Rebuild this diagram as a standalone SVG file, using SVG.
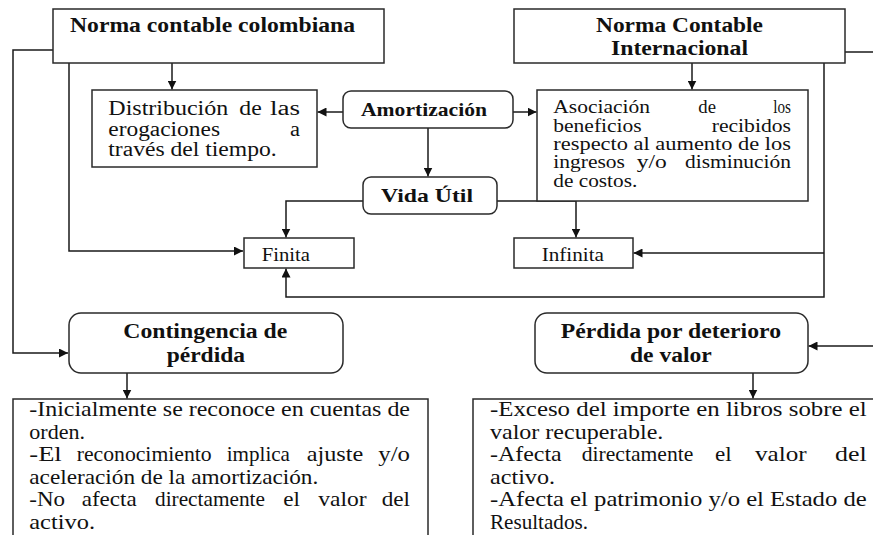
<svg xmlns="http://www.w3.org/2000/svg" width="873" height="535" viewBox="0 0 873 535">
<style>
.box{fill:#fff;stroke:#2a2a2a;stroke-width:1.5}
.c{fill:none;stroke:#1a1a1a;stroke-width:1.5}
.h{font-family:"Liberation Serif","Times New Roman",serif;font-weight:bold;font-size:20px;fill:#111}
.hs{font-family:"Liberation Serif","Times New Roman",serif;font-weight:bold;font-size:19.5px;fill:#111}
.t{font-family:"Liberation Serif","Times New Roman",serif;font-size:20px;fill:#111}
.ts{font-family:"Liberation Serif","Times New Roman",serif;font-size:18px;fill:#111}
.tb{font-family:"Liberation Serif","Times New Roman",serif;font-size:21px;fill:#111}
.tf{font-family:"Liberation Serif","Times New Roman",serif;font-size:18.5px;fill:#111}
</style>
<defs>
<marker id="ah" viewBox="0 0 10 10" refX="10" refY="5" markerWidth="9" markerHeight="9" markerUnits="userSpaceOnUse" orient="auto">
<path d="M0,0 L10,5 L0,10 z" fill="#111"/>
</marker>
</defs>
<rect width="873" height="535" fill="#fff"/>

<g id="connectors">
<path class="c" d="M53,50 H13 V353 H68" marker-end="url(#ah)"/>
<path class="c" d="M69,63 V251 H243" marker-end="url(#ah)"/>
<path class="c" d="M172,63 V89.5" marker-end="url(#ah)"/>
<path class="c" d="M343,112 H317.5" marker-end="url(#ah)"/>
<path class="c" d="M513,112 H536.5" marker-end="url(#ah)"/>
<path class="c" d="M428,128 V176.5" marker-end="url(#ah)"/>
<path class="c" d="M363,201 H286 V237.5" marker-end="url(#ah)"/>
<path class="c" d="M497,201 H576 V237.5" marker-end="url(#ah)"/>
<path class="c" d="M692,63 V89.5" marker-end="url(#ah)"/>
<path class="c" d="M845,52 H873"/>
<path class="c" d="M824,63 V297 H286 V268.5" marker-end="url(#ah)"/>
<path class="c" d="M824,253 H633.5" marker-end="url(#ah)"/>
<path class="c" d="M873,346 H808.5" marker-end="url(#ah)"/>
<path class="c" d="M127,373 V398.5" marker-end="url(#ah)"/>
<path class="c" d="M753,373 V398.5" marker-end="url(#ah)"/>
</g>

<g id="norma-colombiana">
<rect class="box" x="53" y="9" width="331" height="54"/>
<text class="h" x="70" y="32" textLength="285" lengthAdjust="spacingAndGlyphs">Norma contable colombiana</text>
</g>

<g id="norma-internacional">
<rect class="box" x="514" y="9" width="331" height="54"/>
<text class="h" x="596" y="32" textLength="167" lengthAdjust="spacingAndGlyphs">Norma Contable</text>
<text class="h" x="611" y="55" textLength="137" lengthAdjust="spacingAndGlyphs">Internacional</text>
</g>

<g id="distribucion">
<rect class="box" x="92" y="90" width="225" height="77"/>
<text class="t" x="108.3" y="115" textLength="120" lengthAdjust="spacingAndGlyphs">Distribución</text>
<text class="t" x="239.3" y="115" textLength="22.4" lengthAdjust="spacingAndGlyphs">de</text>
<text class="t" x="270" y="115" textLength="30" lengthAdjust="spacingAndGlyphs">las</text>
<text class="t" x="108.3" y="135.5" textLength="111.7" lengthAdjust="spacingAndGlyphs">erogaciones</text>
<text class="t" x="290" y="135.5" textLength="10" lengthAdjust="spacingAndGlyphs">a</text>
<text class="t" x="108.3" y="156" textLength="168.4" lengthAdjust="spacingAndGlyphs">través del tiempo.</text>
</g>

<g id="amortizacion">
<rect class="box" x="343" y="91" width="170" height="37" rx="8"/>
<text class="hs" x="361" y="116" textLength="126" lengthAdjust="spacingAndGlyphs">Amortización</text>
</g>

<g id="asociacion">
<rect class="box" x="537" y="90" width="271" height="111"/>
<text class="ts" x="553.3" y="113.3" textLength="96.7" lengthAdjust="spacingAndGlyphs">Asociación</text>
<text class="ts" x="698.3" y="113.3" textLength="17.7" lengthAdjust="spacingAndGlyphs">de</text>
<text class="ts" x="773.3" y="113.3" textLength="17.7" lengthAdjust="spacingAndGlyphs">los</text>
<text class="ts" x="553.3" y="131.7" textLength="88.4" lengthAdjust="spacingAndGlyphs">beneficios</text>
<text class="ts" x="711.7" y="131.7" textLength="79.3" lengthAdjust="spacingAndGlyphs">recibidos</text>
<text class="ts" x="553.3" y="150" textLength="237.7" lengthAdjust="spacingAndGlyphs">respecto al aumento de los</text>
<text class="ts" x="553.3" y="168.3" textLength="71.7" lengthAdjust="spacingAndGlyphs">ingresos</text>
<text class="ts" x="636.7" y="168.3" textLength="30" lengthAdjust="spacingAndGlyphs">y/o</text>
<text class="ts" x="685" y="168.3" textLength="106" lengthAdjust="spacingAndGlyphs">disminución</text>
<text class="ts" x="553.3" y="186.7" textLength="84" lengthAdjust="spacingAndGlyphs">de costos.</text>
</g>

<g id="vida-util">
<rect class="box" x="363" y="177" width="134" height="37" rx="8"/>
<text class="hs" x="381" y="202" textLength="92" lengthAdjust="spacingAndGlyphs">Vida Útil</text>
</g>

<g id="finita">
<rect class="box" x="244" y="238" width="110" height="30"/>
<text class="tf" x="261.7" y="261" textLength="48.3" lengthAdjust="spacingAndGlyphs">Finita</text>
</g>

<g id="infinita">
<rect class="box" x="514" y="238" width="119" height="30"/>
<text class="tf" x="541.7" y="261" textLength="62.3" lengthAdjust="spacingAndGlyphs">Infinita</text>
</g>

<g id="contingencia">
<rect class="box" x="69" y="313" width="274" height="60" rx="12"/>
<text class="h" x="123.3" y="338" textLength="164" lengthAdjust="spacingAndGlyphs">Contingencia de</text>
<text class="h" x="166.7" y="362" textLength="78.3" lengthAdjust="spacingAndGlyphs">pérdida</text>
</g>

<g id="perdida-deterioro">
<rect class="box" x="535" y="313" width="273" height="60" rx="12"/>
<text class="h" x="560.7" y="338" textLength="220.3" lengthAdjust="spacingAndGlyphs">Pérdida por deterioro</text>
<text class="h" x="630" y="362" textLength="81.7" lengthAdjust="spacingAndGlyphs">de valor</text>
</g>

<g id="contingencia-detalle">
<rect class="box" x="13" y="399" width="415" height="160"/>
<text class="tb" x="29.3" y="416" textLength="380.7" lengthAdjust="spacingAndGlyphs">-Inicialmente se reconoce en cuentas de</text>
<text class="tb" x="29.3" y="438.6" textLength="55.7" lengthAdjust="spacingAndGlyphs">orden.</text>
<text class="tb" x="29.3" y="461.2" textLength="32.4" lengthAdjust="spacingAndGlyphs">-El</text>
<text class="tb" x="76.7" y="461.2" textLength="135" lengthAdjust="spacingAndGlyphs">reconocimiento</text>
<text class="tb" x="226.7" y="461.2" textLength="63.3" lengthAdjust="spacingAndGlyphs">implica</text>
<text class="tb" x="306.7" y="461.2" textLength="56.6" lengthAdjust="spacingAndGlyphs">ajuste</text>
<text class="tb" x="378.3" y="461.2" textLength="31.7" lengthAdjust="spacingAndGlyphs">y/o</text>
<text class="tb" x="29.3" y="483.8" textLength="289" lengthAdjust="spacingAndGlyphs">aceleración de la amortización.</text>
<text class="tb" x="29.3" y="506.4" textLength="35.7" lengthAdjust="spacingAndGlyphs">-No</text>
<text class="tb" x="81.7" y="506.4" textLength="55" lengthAdjust="spacingAndGlyphs">afecta</text>
<text class="tb" x="155" y="506.4" textLength="110" lengthAdjust="spacingAndGlyphs">directamente</text>
<text class="tb" x="283.3" y="506.4" textLength="16.7" lengthAdjust="spacingAndGlyphs">el</text>
<text class="tb" x="318.3" y="506.4" textLength="48.4" lengthAdjust="spacingAndGlyphs">valor</text>
<text class="tb" x="381.7" y="506.4" textLength="28.3" lengthAdjust="spacingAndGlyphs">del</text>
<text class="tb" x="29.3" y="529" textLength="65.7" lengthAdjust="spacingAndGlyphs">activo.</text>
</g>

<g id="deterioro-detalle">
<rect class="box" x="473" y="399" width="420" height="160"/>
<text class="tb" x="490" y="416" textLength="376.7" lengthAdjust="spacingAndGlyphs">-Exceso del importe en libros sobre el</text>
<text class="tb" x="490" y="438.6" textLength="173.3" lengthAdjust="spacingAndGlyphs">valor recuperable.</text>
<text class="tb" x="490" y="461.2" textLength="71.7" lengthAdjust="spacingAndGlyphs">-Afecta</text>
<text class="tb" x="581.7" y="461.2" textLength="111.6" lengthAdjust="spacingAndGlyphs">directamente</text>
<text class="tb" x="715" y="461.2" textLength="16.7" lengthAdjust="spacingAndGlyphs">el</text>
<text class="tb" x="755" y="461.2" textLength="51.7" lengthAdjust="spacingAndGlyphs">valor</text>
<text class="tb" x="835" y="461.2" textLength="31.7" lengthAdjust="spacingAndGlyphs">del</text>
<text class="tb" x="490" y="483.8" textLength="65" lengthAdjust="spacingAndGlyphs">activo.</text>
<text class="tb" x="490" y="506.4" textLength="376.7" lengthAdjust="spacingAndGlyphs">-Afecta el patrimonio y/o el Estado de</text>
<text class="tb" x="490" y="529" textLength="98" lengthAdjust="spacingAndGlyphs">Resultados.</text>
</g>
</svg>
